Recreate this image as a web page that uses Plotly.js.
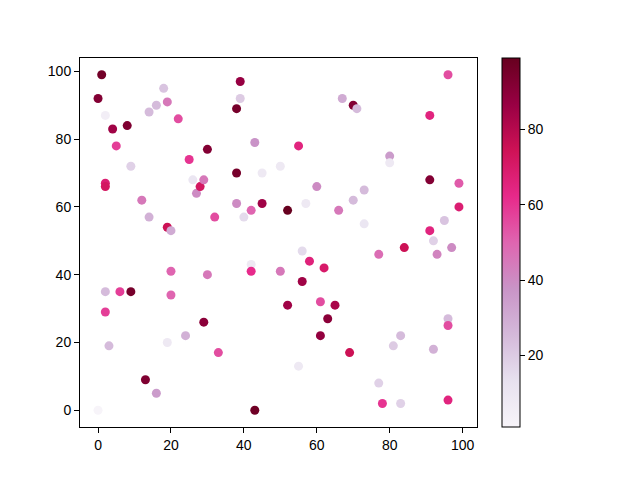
<!DOCTYPE html>
<html>
<head>
<meta charset="utf-8">
<script src="https://cdn.plot.ly/plotly-3.0.1.min.js"></script>
<style>html,body{margin:0;padding:0;background:#fff;}#plot{width:640px;height:480px;}</style>
</head>
<body>
<div id="plot"></div>
<script>
const xs = [1,0,2,4,8,5,9,2,2,12,14,14,16,18,19,22,19,20,25,26,27,28,29,30,32,38,39,39,38,38,40,43,42,45,45,50,52,55,57,60,56,58,62,56,52,61,65,63,61,67,70,71,70,73,73,66,80,80,77,84,91,96,91,99,99,91,92,95,93,97,96,96,92,83,81,77,78,83,96,69,55,43,42,42,50,2,6,9,2,3,20,20,30,24,19,29,33,13,16,0];
const ys = [99,92,87,83,84,78,72,67,66,62,57,88,90,95,91,86,54,53,74,68,64,66,68,77,57,89,97,92,70,61,57,79,59,61,70,72,59,78,61,66,47,44,42,38,31,32,31,27,22,92,90,89,62,65,55,59,75,73,46,48,87,99,68,67,60,53,50,56,46,48,27,25,18,22,19,8,2,2,3,17,13,0,43,41,41,35,35,35,29,19,41,34,40,22,20,26,17,9,5,0];
const colors = [96,92,5,85,93,58,18,68,72,45,28,25,25,22,45,55,75,30,60,10,40,72,45,92,55,95,87,20,95,40,15,38,50,85,8,8,99,65,8,40,15,66,70,85,85,55,83,90,88,30,92,25,25,25,10,45,35,8,48,75,65,55,92,52,68,65,18,22,42,40,25,55,28,25,20,18,60,18,65,75,8,97,8,62,45,25,58,95,58,25,50,50,45,28,8,90,55,93,35,1];

const puRd = [[0,'#f7f4f9'],[0.125,'#e7e1ef'],[0.25,'#d4b9da'],[0.375,'#c994c7'],[0.5,'#df65b0'],[0.625,'#e7298a'],[0.75,'#ce1256'],[0.875,'#980043'],[1,'#67001f']];

const tickFont = {family: 'Liberation Sans, Arial, sans-serif', size: 14, color: '#000'};

const trace = {
  type: 'scatter', mode: 'markers', x: xs, y: ys,
  marker: {
    size: 9, color: colors, colorscale: puRd, cmin: 1, cmax: 99,
    line: {width: 0},
    colorbar: {
      x: (502-80)/397, xanchor: 'left', xpad: 0, ypad: 0,
      y: 0.5, yanchor: 'middle', len: 1, lenmode: 'fraction',
      thickness: 18, thicknessmode: 'pixels',
      outlinewidth: 1, outlinecolor: '#000',
      tickmode: 'array', tickvals: [20,40,60,80], ticktext: ['20','40','60','80'],
      ticks: 'outside', ticklen: 5, tickwidth: 1, tickcolor: '#000',
      tickfont: tickFont
    }
  },
  hoverinfo: 'none'
};

const axisCommon = {
  showgrid: false, zeroline: false, showline: true, mirror: true,
  linecolor: '#000', linewidth: 1, ticks: 'outside', ticklen: 5, tickwidth: 1, tickcolor: '#000',
  tickfont: tickFont
};

const layout = {
  width: 640, height: 480,
  margin: {l: 80, r: 163, t: 58, b: 53, pad: 0},
  paper_bgcolor: '#fff', plot_bgcolor: '#fff',
  showlegend: false,
  xaxis: Object.assign({range: [-4.95, 103.95], tickvals: [0,20,40,60,80,100]}, axisCommon),
  yaxis: Object.assign({range: [-4.95, 103.95], tickvals: [0,20,40,60,80,100]}, axisCommon)
};

Plotly.newPlot('plot', [trace], layout, {displayModeBar: false, staticPlot: true});
</script>
</body>
</html>
